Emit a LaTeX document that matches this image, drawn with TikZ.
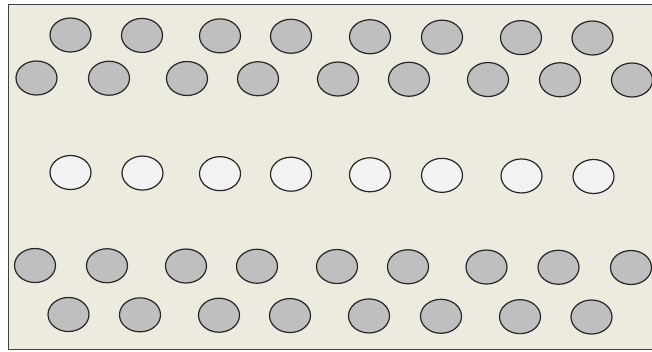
\documentclass[tikz,border=0pt]{standalone}
\usetikzlibrary{shapes.geometric}
\begin{document}
\begin{tikzpicture}[x=1pt,y=-1pt,
  hole/.style={ellipse,draw=black!85,line width=1.2pt,minimum width=41pt,minimum height=34pt,inner sep=0pt},
  grayhole/.style={hole,fill=gray!50},
  whitehole/.style={hole,fill=black!5}]
\useasboundingbox (0,0) rectangle (652,351);
\fill[white] (0,0) rectangle (652,351);
\fill[fill={rgb,255:red,237;green,234;blue,224}] (8,4) rectangle (652,349);
\draw[black!75,line width=1pt] (652,4) -- (8,4) -- (8,349) -- (652,349);
% row 1
\foreach \x [count=\i] in {70.5,142,220,291,370,442,521,592.5}
  \node[grayhole] (a\i) at (\x,{35+(\x-70)/522*3}) {};
% row 2
\foreach \x [count=\i] in {36.5,109,187,258,338,409,488,560,632}
  \node[grayhole] (b\i) at (\x,{78+(\x-36)/596*2}) {};
% middle row
\foreach \x [count=\i] in {70.5,142.5,220,291,370,442,521.5,593.5}
  \node[whitehole] (c\i) at (\x,{172.5+(\x-70)/522*4}) {};
% row 4
\foreach \x [count=\i] in {35,107,186,257,337,408,486.5,558.5,631}
  \node[grayhole] (d\i) at (\x,{265.5+(\x-35)/596*2}) {};
% row 5
\foreach \x [count=\i] in {68.5,140,219,290,369,441,520,591.5}
  \node[grayhole] (e\i) at (\x,{314.5+(\x-68)/524*2.5}) {};
\end{tikzpicture}
\end{document}
